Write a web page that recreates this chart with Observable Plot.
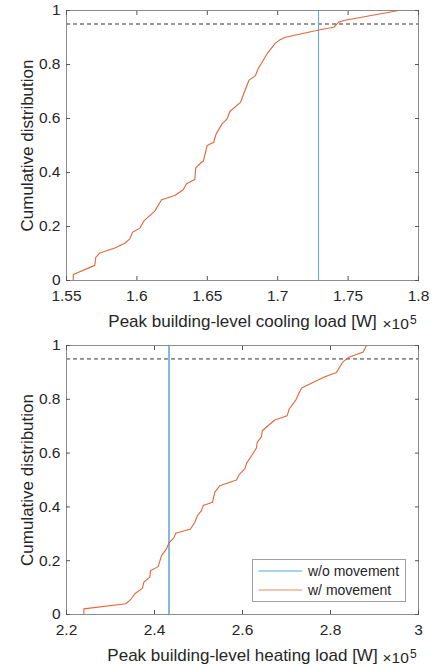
<!DOCTYPE html>
<html>
<head>
<meta charset="utf-8">
<script src="https://cdn.jsdelivr.net/npm/d3@7"></script>
<script src="https://cdn.jsdelivr.net/npm/@observablehq/plot@0.6"></script>
<style>
  body { margin: 0; background: #fff; font-family: "Liberation Sans", Arial, sans-serif; }
  #wrap { position: relative; width: 432px; height: 669px; }
  #wrap svg { display: block; }
  .legend { position: absolute; left: 252px; top: 559px; width: 152px; height: 41px;
            border: 1px solid #a0a0a0; background: #fff; font-size: 14px; color: #262626; }
  .legend .row { position: absolute; left: 0; height: 18px; width: 152px; }
  .legend svg { position: absolute; left: 5px; top: 0; }
  .legend span { position: absolute; left: 55px; top: 0; line-height: 18px; white-space: nowrap; }
</style>
</head>
<body>
<div id="wrap"></div>
<script>
// ---- Data (loads in units of 10^5 W) ----
const coolingLoad = [1.5548, 1.5548, 1.5701, 1.5708, 1.5737, 1.5843, 1.5914, 1.5950, 1.5969, 1.6021,
  1.6052, 1.6127, 1.6175, 1.6269, 1.6329, 1.6352, 1.6411, 1.6418, 1.6459, 1.6472, 1.6499, 1.6546,
  1.6563, 1.6605, 1.6641, 1.6660, 1.6736, 1.6795, 1.6842, 1.6861, 1.6925, 1.6984, 1.7020, 1.7055,
  1.7292, 1.7398, 1.7434, 1.7469, 1.7860];
const coolingCdf = [0, 0.022, 0.056, 0.086, 0.102, 0.120, 0.138, 0.154, 0.179, 0.194,
  0.222, 0.257, 0.299, 0.315, 0.336, 0.358, 0.374, 0.417, 0.438, 0.442, 0.500, 0.512,
  0.543, 0.580, 0.599, 0.626, 0.660, 0.741, 0.759, 0.784, 0.840, 0.879, 0.893, 0.901,
  0.928, 0.938, 0.957, 0.963, 1.000];
const coolingBaseline = [1.729];

const heatingLoad = [2.2394, 2.2394, 2.3348, 2.3455, 2.3553, 2.3727, 2.3757, 2.3894, 2.3909, 2.4084,
  2.4159, 2.4273, 2.4325, 2.4439, 2.4484, 2.4818, 2.4916, 2.4977, 2.5068, 2.5107, 2.5318, 2.5370,
  2.5484, 2.5864, 2.5924, 2.6052, 2.6091, 2.6205, 2.6318, 2.6334, 2.6432, 2.6448, 2.6734, 2.7016,
  2.7061, 2.7211, 2.7341, 2.7870, 2.8136, 2.8273, 2.8402, 2.8743, 2.8818];
const heatingCdf = [0, 0.021, 0.040, 0.055, 0.077, 0.098, 0.120, 0.139, 0.163, 0.178,
  0.219, 0.244, 0.265, 0.285, 0.302, 0.318, 0.343, 0.368, 0.386, 0.405, 0.417, 0.454,
  0.479, 0.500, 0.520, 0.541, 0.562, 0.590, 0.619, 0.640, 0.661, 0.683, 0.723, 0.739,
  0.764, 0.797, 0.842, 0.884, 0.900, 0.937, 0.955, 0.976, 1.000];
const heatingBaseline = [2.433];

const threshold = [0.95];
const coolingTicks = [1.55, 1.6, 1.65, 1.7, 1.75, 1.8];
const heatingTicks = [2.2, 2.4, 2.6, 2.8, 3];
const cdfTicks = [0, 0.2, 0.4, 0.6, 0.8, 1];
const coolingTitle = "Peak building-level cooling load [W]";
const heatingTitle = "Peak building-level heating load [W]";
const yTitle = "Cumulative distribution";
const exponentBase = "×10";
const exponent = "5";
const seriesNames = ["w/o movement", "w/ movement"];
const colors = ["#0072BD", "#E0673A"];

const fmt = d => String(+d.toFixed(2));

function chart({load, cdf, baseline, ticks, title, height, marginTop, marginBottom, baselineColor}) {
  const rows = load.map((v, i) => ({load: v, cdf: cdf[i]}));
  const axisStyle = {stroke: "#555", fill: "#262626"};
  return Plot.plot({
    width: 432,
    height,
    marginLeft: 66,
    marginRight: 14,
    marginTop,
    marginBottom,
    style: {fontFamily: "'Liberation Sans', Arial, sans-serif", fontSize: "15.5px", color: "#262626", background: "white", overflow: "visible"},
    x: {domain: [ticks[0], ticks[ticks.length - 1]], label: null},
    y: {domain: [0, 1], label: null},
    marks: [
      Plot.ruleY(threshold, {stroke: "#333", strokeDasharray: "4,3", strokeWidth: 1}),
      Plot.ruleX(baseline, {stroke: baselineColor, strokeWidth: 1}),
      Plot.line(rows, {x: "load", y: "cdf", stroke: colors[1], strokeWidth: 1.1}),
      Plot.frame({stroke: "#8c8c8c"}),
      Plot.axisX({ticks, anchor: "bottom", tickSize: -4, tickPadding: 13, tickFormat: fmt, label: null, ...axisStyle}),
      Plot.axisX({ticks, anchor: "top", tickSize: -4, tickFormat: () => "", label: null, ...axisStyle}),
      Plot.axisY({ticks: cdfTicks, anchor: "left", tickSize: -4, tickPadding: 10, tickFormat: fmt, label: null, ...axisStyle}),
      Plot.axisY({ticks: cdfTicks, anchor: "right", tickSize: -4, tickFormat: () => "", label: null, ...axisStyle}),
      Plot.text([title], {text: d => d, frameAnchor: "bottom", dy: 46, fontSize: 17, fill: "#262626"}),
      Plot.text([exponentBase], {text: d => d, frameAnchor: "bottom-right", textAnchor: "start", dx: -36, dy: 48, fontSize: 15.5, fill: "#262626"}),
      Plot.text([exponent], {text: d => d, frameAnchor: "bottom-right", textAnchor: "start", dx: -8.5, dy: 43, fontSize: 12, fill: "#262626"}),
      Plot.text([yTitle], {text: d => d, frameAnchor: "left", textAnchor: "middle", rotate: -90, dx: -39, fontSize: 17, fill: "#262626"})
    ]
  });
}

const wrap = document.getElementById("wrap");
wrap.appendChild(chart({load: coolingLoad, cdf: coolingCdf, baseline: coolingBaseline, ticks: coolingTicks,
  title: coolingTitle, height: 334, marginTop: 10, marginBottom: 54, baselineColor: "#5aa7dc"}));
wrap.appendChild(chart({load: heatingLoad, cdf: heatingCdf, baseline: heatingBaseline, ticks: heatingTicks,
  title: heatingTitle, height: 335, marginTop: 11, marginBottom: 55, baselineColor: colors[0]}));

// legend
const legend = document.createElement("div");
legend.className = "legend";
seriesNames.forEach((name, i) => {
  const row = document.createElement("div");
  row.className = "row";
  row.style.top = (1.5 + i * 19.3) + "px";
  row.innerHTML = `<svg width="45" height="18"><line x1="0.5" x2="44" y1="9" y2="9" stroke="${i === 0 ? "#4da6e0" : "#ec8a62"}" stroke-width="1"/></svg><span>${name}</span>`;
  legend.appendChild(row);
});
wrap.appendChild(legend);
</script>
</body>
</html>
